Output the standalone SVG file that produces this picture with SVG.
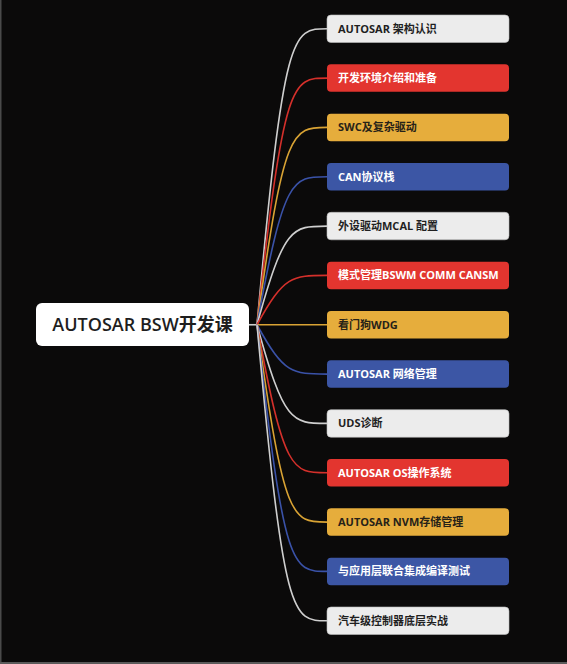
<svg xmlns="http://www.w3.org/2000/svg" width="567" height="664" viewBox="0 0 567 664">
<style>
.t{font-family:"Open Sans","Noto Sans CJK SC",sans-serif;font-size:11px;font-weight:700}
.root{font-family:"Open Sans","Noto Sans CJK SC",sans-serif;font-size:18px;font-weight:600;fill:#1e1e1e}
.w rect{fill:#ececec;stroke:#bdbdbd;stroke-width:0.6}
.w text{fill:#1f1f1f}
.r rect{fill:#e3352f}
.r text{fill:#ffffff}
.y rect{fill:#e6ad3c}
.y text{fill:#262218}
.b rect{fill:#3c56a5}
.b text{fill:#ffffff}
.c{fill:none;stroke-width:1.6}
.cw{stroke:#cfcfcf}.cr{stroke:#d4302b}.cy{stroke:#d9a334}.cb{stroke:#3a52a8}
</style>
<rect x="0" y="0" width="567" height="664" fill="#0b0a0a"/>
<rect x="0" y="0" width="1.5" height="664" fill="#4a4a4a"/>
<rect x="0" y="662" width="567" height="2" fill="#5a5a5a"/>
<g id="connectors">
<line x1="249" y1="324.75" x2="257" y2="324.75" stroke="#cfcfcf" stroke-width="1.6"/>
<path class="c cw" d="M257 324.75C284 28.75 292 28.75 327 28.75"/>
<path class="c cr" d="M257 324.75C284 78.1 292 78.1 327 78.1"/>
<path class="c cy" d="M257 324.75C284 127.4 292 127.4 327 127.4"/>
<path class="c cb" d="M257 324.75C284 176.75 292 176.75 327 176.75"/>
<path class="c cw" d="M257 324.75C284 226.1 292 226.1 327 226.1"/>
<path class="c cr" d="M257 324.75C284 275.4 292 275.4 327 275.4"/>
<path class="c cy" d="M257 324.75L327 324.75"/>
<path class="c cb" d="M257 324.75C284 374.1 292 374.1 327 374.1"/>
<path class="c cw" d="M257 324.75C284 423.4 292 423.4 327 423.4"/>
<path class="c cr" d="M257 324.75C284 472.75 292 472.75 327 472.75"/>
<path class="c cy" d="M257 324.75C284 522.1 292 522.1 327 522.1"/>
<path class="c cb" d="M257 324.75C284 571.4 292 571.4 327 571.4"/>
<path class="c cw" d="M257 324.75C284 620.75 292 620.75 327 620.75"/>
</g>
<g id="root">
<rect x="36" y="303" width="213" height="43" rx="6" fill="#ffffff"/>
<text class="root" x="142.5" y="331" text-anchor="middle">AUTOSAR BSW开发课</text>
</g>
<g id="n1" class="w"><rect x="327" y="15" width="182" height="27.5" rx="4"/><text class="t" x="338" y="32.8">AUTOSAR 架构认识</text></g>
<g id="n2" class="r"><rect x="327" y="64.3" width="182" height="27.5" rx="4"/><text class="t" x="338" y="82.1">开发环境介绍和准备</text></g>
<g id="n3" class="y"><rect x="327" y="113.7" width="182" height="27.5" rx="4"/><text class="t" x="338" y="131.4">SWC及复杂驱动</text></g>
<g id="n4" class="b"><rect x="327" y="163" width="182" height="27.5" rx="4"/><text class="t" x="338" y="180.8">CAN协议栈</text></g>
<g id="n5" class="w"><rect x="327" y="212.3" width="182" height="27.5" rx="4"/><text class="t" x="338" y="230.1">外设驱动MCAL 配置</text></g>
<g id="n6" class="r"><rect x="327" y="261.7" width="182" height="27.5" rx="4"/><text class="t" x="338" y="279.4">模式管理BSWM COMM CANSM</text></g>
<g id="n7" class="y"><rect x="327" y="311" width="182" height="27.5" rx="4"/><text class="t" x="338" y="328.8">看门狗WDG</text></g>
<g id="n8" class="b"><rect x="327" y="360.3" width="182" height="27.5" rx="4"/><text class="t" x="338" y="378.1">AUTOSAR 网络管理</text></g>
<g id="n9" class="w"><rect x="327" y="409.7" width="182" height="27.5" rx="4"/><text class="t" x="338" y="427.4">UDS诊断</text></g>
<g id="n10" class="r"><rect x="327" y="459" width="182" height="27.5" rx="4"/><text class="t" x="338" y="476.8">AUTOSAR OS操作系统</text></g>
<g id="n11" class="y"><rect x="327" y="508.3" width="182" height="27.5" rx="4"/><text class="t" x="338" y="526.1">AUTOSAR NVM存储管理</text></g>
<g id="n12" class="b"><rect x="327" y="557.7" width="182" height="27.5" rx="4"/><text class="t" x="338" y="575.4">与应用层联合集成编译测试</text></g>
<g id="n13" class="w"><rect x="327" y="607" width="182" height="27.5" rx="4"/><text class="t" x="338" y="624.8">汽车级控制器底层实战</text></g>
</svg>
